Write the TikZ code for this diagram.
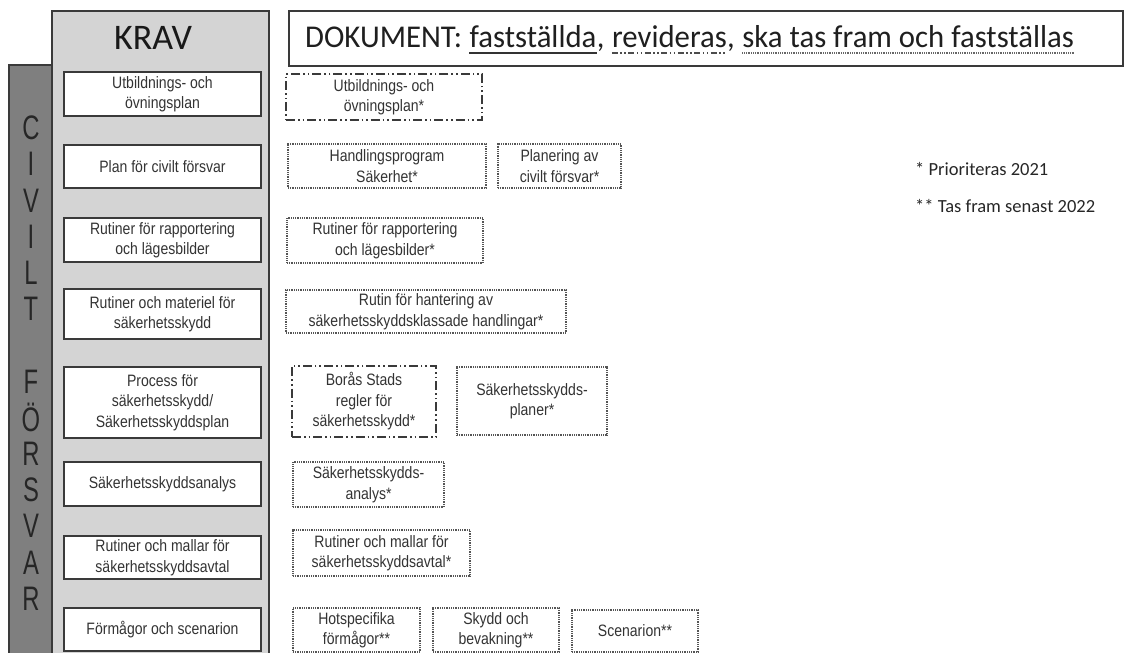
\documentclass[tikz,border=0pt]{standalone}
\usepackage{fontspec}
\newfontfamily\boxfont[FakeStretch=0.85]{Liberation Sans}
\newfontfamily\barfont[FakeStretch=0.7]{Liberation Sans}
\newfontfamily\calfont{Carlito}
\newfontfamily\calnarrow[FakeStretch=0.97]{Carlito}
\definecolor{edge}{HTML}{3A3A3A}
\definecolor{panel}{HTML}{D4D4D4}
\definecolor{bar}{HTML}{7F7F7F}
\definecolor{txt}{HTML}{333333}
\definecolor{dotc}{HTML}{555555}
\tikzset{
  kbox/.style={draw=edge, line width=1.6pt, fill=white, text=txt, align=center, inner sep=0pt,
    font=\boxfont\fontsize{16.5}{20.5}\selectfont},
  dbox/.style={draw=dotc, line width=1.3pt, dash pattern=on 0.9pt off 0.9pt, fill=white, text=txt,
    align=center, inner sep=0pt, font=\boxfont\fontsize{16.5}{20.5}\selectfont},
  ddbox/.style={dbox, draw=edge, line width=1.9pt,
    dash pattern=on 9pt off 3pt on 1.6pt off 3pt on 1.6pt off 3pt},
  barletter/.style={text=black!85, font=\barfont\fontsize{34}{34}\selectfont, inner sep=0pt},
  dokt/.style={font=\calnarrow\fontsize{31.7}{32}\selectfont, text=black!88, inner sep=0pt, anchor=base west},
  legend/.style={font=\calfont\fontsize{18.5}{20}\selectfont, text=black!85, inner sep=0pt, anchor=base west}
}
\begin{document}
\begin{tikzpicture}[x=1pt,y=-1pt]
\useasboundingbox (0,0) rectangle (1128,653);
\clip (0,0) rectangle (1128,653);
% civilt forsvar bar and KRAV panel
\draw[fill=bar, draw=edge, line width=1.5pt] (9,65) rectangle (53,665);
\draw[fill=panel, draw=edge, line width=1.5pt] (52,11) rectangle (269,665);
\node[font=\calfont\fontsize{36}{36}\selectfont, text=black!90, inner sep=0pt, anchor=base] (krav) at (153,49) {KRAV};
% bar letters
\foreach \l/\y [count=\i] in {C/128,I/164.2,V/200.4,I/236.6,L/272.8,T/309,F/381.4,Ö/417.6,R/453.8,S/490,V/526.2,A/562.4,R/598.6}
  \node[barletter] (bl\i) at (31,\y) {\l};
% KRAV boxes
\node[kbox, minimum width=197pt, minimum height=44pt] (k1) at (162.5,94) {Utbildnings- och\\övningsplan};
\node[kbox, minimum width=197pt, minimum height=43pt] (k2) at (162.5,166.5) {Plan för civilt försvar};
\node[kbox, minimum width=197pt, minimum height=44pt] (k3) at (162.5,240) {Rutiner för rapportering\\och lägesbilder};
\node[kbox, minimum width=197pt, minimum height=50pt] (k4) at (162.5,314) {Rutiner och materiel för\\säkerhetsskydd};
\node[kbox, minimum width=197pt, minimum height=71pt] (k5) at (162.5,402.5) {Process för\\säkerhetsskydd/\\Säkerhetsskyddsplan};
\node[kbox, minimum width=197pt, minimum height=44pt] (k6) at (162.5,484) {Säkerhetsskyddsanalys};
\node[kbox, minimum width=197pt, minimum height=43pt] (k7) at (162.5,557.5) {Rutiner och mallar för\\säkerhetsskyddsavtal};
\node[kbox, minimum width=197pt, minimum height=43pt] (k8) at (162.5,629.5) {Förmågor och scenarion};
% DOKUMENT header
\draw[fill=white, draw=edge, line width=1.5pt] (289,11) rectangle (1123,66);
\node[dokt] (t0) at (305,47) {DOKUMENT:\kern0.226em};
\node[dokt] (t1) at (t0.base east) {fastställda};
\node[dokt] (t2) at (t1.base east) {,\kern0.226em};
\node[dokt] (t3) at (t2.base east) {revideras};
\node[dokt] (t4) at (t3.base east) {,\kern0.226em};
\node[dokt] (t5) at (t4.base east) {ska tas fram och fastställas};
\draw[line width=1.6pt, draw=black!80] ([yshift=-6pt]t1.base west) -- ([yshift=-6pt]t1.base east);
\draw[line width=1.6pt, draw=black!70, dash pattern=on 6pt off 2.5pt on 1.5pt off 2.5pt on 1.5pt off 2.5pt] ([yshift=-6pt]t3.base west) -- ([yshift=-6pt]t3.base east);
\draw[line width=1.2pt, draw=black!60, dash pattern=on 0.9pt off 0.9pt] ([yshift=-6pt]t5.base west) -- ([yshift=-6pt]t5.base east);
% DOKUMENT boxes
\node[ddbox, minimum width=196pt, minimum height=46pt] (d1) at (384,97) {Utbildnings- och\\övningsplan*};
\node[dbox, minimum width=198pt, minimum height=44pt] (d2) at (387,166) {Handlingsprogram\\Säkerhet*};
\node[dbox, minimum width=123pt, minimum height=44pt] (d3) at (559.5,166) {Planering av\\civilt försvar*};
\node[dbox, minimum width=196pt, minimum height=45pt] (d4) at (385,240.5) {Rutiner för rapportering\\och lägesbilder*};
\node[dbox, minimum width=280pt, minimum height=43pt] (d5) at (426,311.5) {Rutin för hantering av\\säkerhetsskyddsklassade handlingar*};
\node[ddbox, minimum width=144pt, minimum height=71pt] (d6) at (364,401.5) {Borås Stads\\regler för\\säkerhetsskydd*};
\node[dbox, minimum width=150pt, minimum height=68pt] (d7) at (532,401) {Säkerhetsskydds-\\planer*};
\node[dbox, minimum width=151pt, minimum height=45pt] (d8) at (368.5,484.5) {Säkerhetsskydds-\\analys*};
\node[dbox, minimum width=177pt, minimum height=46pt] (d9) at (381.5,553) {Rutiner och mallar för\\säkerhetsskyddsavtal*};
\node[dbox, minimum width=127pt, minimum height=44pt] (d10) at (356.5,630) {Hotspecifika\\förmågor**};
\node[dbox, minimum width=126pt, minimum height=44pt] (d11) at (496,630) {Skydd och\\bevakning**};
\node[dbox, minimum width=126pt, minimum height=42pt] (d12) at (635,631) {Scenarion**};
% legend
\node[legend] (lg1) at (915,175) {* Prioriteras 2021};
\node[legend] (lg2) at (915,212) {** Tas fram senast 2022};
\end{tikzpicture}
\end{document}
